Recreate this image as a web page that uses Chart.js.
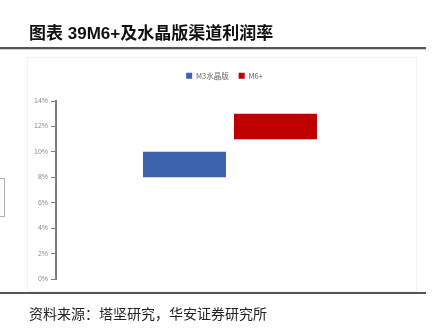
<!DOCTYPE html>
<html>
<head>
<meta charset="utf-8">
<script src="https://cdn.jsdelivr.net/npm/chart.js@4/dist/chart.umd.min.js"></script>
<style>
  html, body { margin: 0; padding: 0; background: #fff; }
  body { width: 437px; height: 329px; position: relative; overflow: hidden; }
  #title {
    position: absolute; left: 29px; top: 24px;
    font: bold 17px "Liberation Sans", "Noto Sans CJK SC", sans-serif;
    color: #111; white-space: nowrap; line-height: 20px;
  }
  #title-rule {
    position: absolute; left: 0; top: 47px; width: 426px; height: 2px;
    background: #555; box-shadow: 0 1px 0 #ccc;
  }
  #frame {
    position: absolute; left: 27px; top: 57px; width: 388px; height: 233px;
    border: 1px solid #f2f2f2;
  }
  #side-box {
    position: absolute; left: -10px; top: 178px; width: 13px; height: 37px;
    border: 1px solid #b0b0b0;
  }
  #foot-rule {
    position: absolute; left: 0; top: 292px; width: 426px; height: 2px;
    background: #555;
  }
  #source {
    position: absolute; left: 29px; top: 304px;
    font: 14px "Noto Sans CJK SC", sans-serif; color: #222;
    white-space: nowrap; line-height: 18px;
  }
  #wrap { position: absolute; left: 0; top: 0; width: 437px; height: 329px; }
</style>
</head>
<body>
<div id="frame"></div>
<div id="side-box"></div>
<div id="wrap"><canvas id="chart"></canvas></div>
<div id="title">图表 39M6+及水晶版渠道利润率</div>
<div id="title-rule"></div>
<div id="foot-rule"></div>
<div id="source">资料来源：塔坚研究，华安证券研究所</div>
<script>
  // channel margin ranges (%), low / high end of each bar
  var seriesNames = ['M3水晶版', 'M6+'];
  var seriesColors = ['#3c64ae', '#c00000'];
  var positions = [1, 2];
  var lowValues = [8, 11];
  var highValues = [10, 13];
  var yTicks = [0, 2, 4, 6, 8, 10, 12, 14];

  var datasets = seriesNames.map(function (name, i) {
    return {
      label: name,
      data: [{ x: positions[i], y: [lowValues[i], highValues[i]] }],
      backgroundColor: seriesColors[i],
      borderWidth: 0,
      grouped: false,
      categoryPercentage: 1,
      barPercentage: 0.912
    };
  });

  var axisGrey = '#7f7f7f';

  // extra room between the legend and the plot
  var legendGap = {
    id: 'legendGap',
    beforeInit: function (chart) {
      var fit = chart.legend.fit;
      chart.legend.fit = function () {
        fit.call(this);
        this.height += 11.5;
      };
    }
  };

  new Chart(document.getElementById('chart'), {
    type: 'bar',
    data: { datasets: datasets },
    plugins: [legendGap],
    options: {
      responsive: true,
      maintainAspectRatio: false,
      animation: false,
      layout: { padding: { left: 12, right: 0, top: 62, bottom: 50 } },
      plugins: {
        tooltip: { enabled: false },
        legend: {
          position: 'top',
          labels: {
            boxWidth: 6,
            boxHeight: 6,
            padding: 10,
            color: '#666',
            font: { size: 7.5, family: '"Noto Sans CJK SC", sans-serif' }
          }
        }
      },
      scales: {
        x: {
          type: 'linear',
          display: false,
          offset: false,
          min: -0.412,
          max: 3.775,
          // only the bar positions as ticks, so bar width follows their spacing
          afterBuildTicks: function (axis) {
            axis.ticks = positions.map(function (v) { return { value: v }; });
          }
        },
        y: {
          min: yTicks[0],
          max: yTicks[yTicks.length - 1],
          afterBuildTicks: function (axis) {
            axis.ticks = yTicks.map(function (v) { return { value: v }; });
          },
          afterFit: function (axis) { axis.width = 44; },
          border: { display: true, color: axisGrey, width: 2 },
          grid: {
            drawOnChartArea: false,
            drawTicks: true,
            tickLength: 5,
            color: axisGrey,
            lineWidth: 1
          },
          ticks: {
            padding: 3,
            color: '#8c8c8c',
            font: { size: 7, family: '"Liberation Sans", Arial, sans-serif' },
            callback: function (v) { return v + '%'; }
          }
        }
      }
    }
  });
</script>
</body>
</html>
